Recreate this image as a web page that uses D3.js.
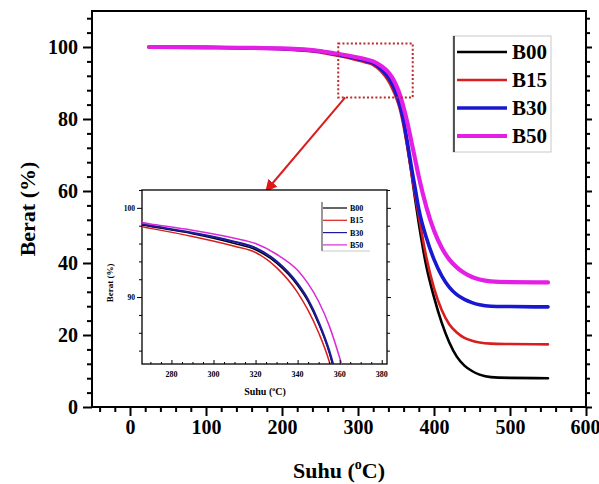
<!DOCTYPE html>
<html>
<head>
<meta charset="utf-8">
<script src="https://cdn.jsdelivr.net/npm/d3@7"></script>
<style>
  html, body { margin: 0; padding: 0; background: #fff; }
  svg { display: block; }
  text { font-family: "Liberation Serif", "DejaVu Serif", serif; font-weight: bold; }
</style>
</head>
<body>
<svg id="chart" width="599" height="484"></svg>
<script>
// ---------------- data ----------------
const temps = [25, 100, 200, 250, 270, 290, 310, 320, 330, 340, 345, 350, 355, 360, 365, 370, 375, 380, 390, 400, 410, 420, 430, 440, 450, 460, 475, 500, 550];
const seriesNames = ["B00", "B15", "B30", "B50"];
const B00 = [100, 99.9, 99.5, 98.7, 97.9, 97.1, 96.0, 95.3, 93.8, 91.3, 89.5, 87.0, 83.8, 79.0, 72.5, 65.5, 58.0, 51.0, 39.0, 30.5, 23.5, 18.0, 14.0, 11.5, 10.0, 9.0, 8.3, 8.1, 8.0];
const B15 = [100, 99.9, 99.4, 98.5, 97.7, 96.8, 95.7, 95.0, 93.3, 90.5, 88.5, 86.0, 82.8, 78.0, 72.0, 65.5, 59.0, 53.0, 41.5, 33.0, 27.0, 23.0, 20.7, 19.2, 18.4, 17.9, 17.6, 17.5, 17.4];
const B30 = [100, 99.9, 99.5, 98.8, 98.0, 97.2, 96.2, 95.5, 94.0, 91.5, 89.7, 87.2, 84.0, 79.5, 73.5, 67.0, 61.0, 55.0, 47.0, 41.0, 36.5, 33.3, 31.2, 29.9, 29.0, 28.4, 28.0, 27.9, 27.8];
const B50 = [100, 99.9, 99.6, 98.9, 98.2, 97.5, 96.6, 96.0, 94.8, 93.0, 91.5, 89.5, 86.8, 83.2, 79.0, 74.0, 69.0, 64.0, 55.5, 49.0, 44.3, 41.0, 38.8, 37.2, 36.1, 35.4, 34.9, 34.7, 34.6];
const seriesValues = [B00, B15, B30, B50];

const xMajorTicks = [0, 100, 200, 300, 400, 500, 600];
const yMajorTicks = [0, 20, 40, 60, 80, 100];
const insetXTicks = [280, 300, 320, 340, 360, 380];
const insetYTicks = [90, 100];
const zoomBox = { t0: 274, t1: 372, w0: 86, w1: 101 }; // region magnified in the inset

// ---------------- styles ----------------
const colors = ["#000000", "#d81e1e", "#1818d0", "#e51ee5"];
const mainWidths = [2.6, 2.6, 3.6, 4.2];
const insetColors = ["#000000", "#d81e1e", "#1a1a9a", "#d92ad9"];

const svg = d3.select("#chart");

// ---------------- main chart ----------------
const M = { left: 92, top: 11, right: 586, bottom: 407 };
const x = d3.scaleLinear().domain([-50, 600]).range([M.left, M.right]);
const y = d3.scaleLinear().domain([0, 110]).range([M.bottom, M.top]);

const series = seriesNames.map((name, i) => ({
  name, color: colors[i], width: mainWidths[i], icolor: insetColors[i],
  values: temps.map((t, j) => ({ t, w: seriesValues[i][j] }))
}));

// frame
svg.append("rect").attr("x", M.left).attr("y", M.top)
  .attr("width", M.right - M.left).attr("height", M.bottom - M.top)
  .attr("fill", "none").attr("stroke", "#000").attr("stroke-width", 2);

// bottom axis
const xMinor = d3.range(-40, 601, 20).filter(v => !xMajorTicks.includes(v));
const gx = svg.append("g").attr("transform", `translate(0,${M.bottom})`);
gx.call(d3.axisBottom(x).tickValues(xMajorTicks).tickSize(9).tickPadding(4).tickFormat(d3.format("d")));
gx.append("g").call(d3.axisBottom(x).tickValues(xMinor).tickSize(5).tickFormat(""));
gx.selectAll(".domain").remove();
gx.selectAll("line").attr("stroke", "#000").attr("stroke-width", 2);
gx.selectAll("text").attr("font-size", 20).attr("fill", "#000")
  .style("font-family", "Liberation Serif").style("font-weight", "bold");
gx.selectAll(".tick text").filter(d => d === 600).attr("text-anchor", "end").attr("dx", 14);

// left axis
const yMinor = d3.range(4, 109, 4).filter(v => !yMajorTicks.includes(v));
const gy = svg.append("g").attr("transform", `translate(${M.left},0)`);
gy.call(d3.axisLeft(y).tickValues(yMajorTicks).tickSize(9).tickPadding(5));
gy.append("g").call(d3.axisLeft(y).tickValues(yMinor).tickSize(5).tickFormat(""));
gy.selectAll(".domain").remove();
gy.selectAll("line").attr("stroke", "#000").attr("stroke-width", 2);
gy.selectAll("text").attr("font-size", 20).attr("fill", "#000")
  .style("font-family", "Liberation Serif").style("font-weight", "bold");

// right axis (mirror ticks)
const gr = svg.append("g").attr("transform", `translate(${M.right},0)`);
gr.call(d3.axisRight(y).tickValues(yMajorTicks).tickSize(6).tickFormat(""));
gr.append("g").call(d3.axisRight(y).tickValues(yMinor).tickSize(4).tickFormat(""));
gr.selectAll(".domain").remove();
gr.selectAll("line").attr("stroke", "#000").attr("stroke-width", 2);

// axis titles
const xt = svg.append("text").attr("x", (M.left + M.right) / 2).attr("y", 478)
  .attr("text-anchor", "middle").attr("font-size", 22).attr("fill", "#000");
xt.append("tspan").text("Suhu (");
xt.append("tspan").attr("font-size", 14).attr("dy", -9).text("o");
xt.append("tspan").attr("dy", 9).text("C)");

svg.append("text").attr("transform", `translate(35,${(M.top + M.bottom) / 2}) rotate(-90)`)
  .attr("text-anchor", "middle").attr("font-size", 22).attr("fill", "#000").text("Berat (%)");

// clip for main lines
svg.append("clipPath").attr("id", "mainclip").append("rect")
  .attr("x", M.left).attr("y", M.top).attr("width", M.right - M.left).attr("height", M.bottom - M.top);

const line = d3.line().x(d => x(d.t)).y(d => y(d.w)).curve(d3.curveMonotoneX);
svg.append("g").attr("clip-path", "url(#mainclip)")
  .selectAll("path").data(series).join("path")
  .attr("d", d => line(d.values))
  .attr("fill", "none").attr("stroke", d => d.color).attr("stroke-width", d => d.width)
  .attr("stroke-linejoin", "round").attr("stroke-linecap", "round");

// legend
const L = { x: 453, y: 36, w: 98, h: 116 };
const lg = svg.append("g");
lg.append("rect").attr("x", L.x).attr("y", L.y).attr("width", L.w).attr("height", L.h)
  .attr("fill", "#fff").attr("stroke", "#c8c8c8").attr("stroke-width", 1);
lg.append("line").attr("x1", L.x + 1).attr("x2", L.x + 1).attr("y1", L.y).attr("y2", L.y + L.h)
  .attr("stroke", "#222").attr("stroke-width", 1.5);
series.forEach((s, i) => {
  const yy = L.y + 16 + i * 28;
  lg.append("line").attr("x1", L.x + 4).attr("x2", L.x + 54).attr("y1", yy).attr("y2", yy)
    .attr("stroke", s.color).attr("stroke-width", s.width);
  lg.append("text").attr("x", L.x + 59).attr("y", yy + 7).attr("font-size", 21)
    .attr("fill", "#000").text(s.name);
});

// zoom box (dotted)
svg.append("rect")
  .attr("x", x(zoomBox.t0)).attr("y", y(zoomBox.w1))
  .attr("width", x(zoomBox.t1) - x(zoomBox.t0)).attr("height", y(zoomBox.w0) - y(zoomBox.w1))
  .attr("fill", "none").attr("stroke", "#c0282a").attr("stroke-width", 2)
  .attr("stroke-dasharray", "2,2.2");

// ---------------- inset ----------------
const I = { left: 142, top: 190, right: 387, bottom: 364 };
const ix = d3.scaleLinear().domain([266, 382.5]).range([I.left, I.right]);
const iy = d3.scaleLinear().domain([82.5, 102]).range([I.bottom, I.top]);

// arrow
const defs = svg.append("defs");
defs.append("marker").attr("id", "arrowhead").attr("viewBox", "0 0 10 10")
  .attr("refX", 9).attr("refY", 5).attr("markerWidth", 6).attr("markerHeight", 6)
  .attr("orient", "auto-start-reverse")
  .append("path").attr("d", "M0,0 L10,5 L0,10 z").attr("fill", "#e01818");
svg.append("line")
  .attr("x1", x(zoomBox.t0) + 7).attr("y1", y(zoomBox.w0))
  .attr("x2", 266).attr("y2", I.top + 1)
  .attr("stroke", "#d81e1e").attr("stroke-width", 2).attr("marker-end", "url(#arrowhead)");

svg.append("rect").attr("x", I.left).attr("y", I.top)
  .attr("width", I.right - I.left).attr("height", I.bottom - I.top)
  .attr("fill", "#fff").attr("stroke", "#000").attr("stroke-width", 1.3);

svg.append("clipPath").attr("id", "insetclip").append("rect")
  .attr("x", I.left).attr("y", I.top).attr("width", I.right - I.left).attr("height", I.bottom - I.top);

const iline = d3.line().x(d => ix(d.t)).y(d => iy(d.w)).curve(d3.curveMonotoneX);
svg.append("g").attr("clip-path", "url(#insetclip)")
  .selectAll("path").data(series).join("path")
  .attr("d", d => iline(d.values))
  .attr("fill", "none").attr("stroke", d => d.icolor).attr("stroke-width", (d, i) => i === 2 ? 2.2 : 1.5);

// inset bottom axis (inward ticks)
const ixMinor = d3.range(270, 381, 5).filter(v => !insetXTicks.includes(v));
const igx = svg.append("g").attr("transform", `translate(0,${I.bottom})`);
igx.call(d3.axisTop(ix).tickValues(insetXTicks).tickSize(4).tickFormat(""));
igx.append("g").call(d3.axisTop(ix).tickValues(ixMinor).tickSize(2).tickFormat(""));
igx.selectAll(".domain").remove();
igx.selectAll("line").attr("stroke", "#000").attr("stroke-width", 1);
igx.selectAll(null).data(insetXTicks).join("text")
  .attr("x", d => ix(d)).attr("y", 13).attr("text-anchor", "middle")
  .attr("font-size", 8).attr("fill", "#000").text(d => d);

// inset left axis
const iyMinor = d3.range(84, 102.1, 2).filter(v => !insetYTicks.includes(v));
const igy = svg.append("g").attr("transform", `translate(${I.left},0)`);
igy.call(d3.axisLeft(iy).tickValues(insetYTicks).tickSize(5).tickPadding(2));
igy.append("g").call(d3.axisLeft(iy).tickValues(iyMinor).tickSize(3).tickFormat(""));
igy.selectAll(".domain").remove();
igy.selectAll("line").attr("stroke", "#000").attr("stroke-width", 1);
igy.selectAll("text").attr("font-size", 7.5).attr("fill", "#000")
  .style("font-family", "Liberation Serif").style("font-weight", "bold");

// inset right axis
const igr = svg.append("g").attr("transform", `translate(${I.right},0)`);
igr.call(d3.axisRight(iy).tickValues(insetYTicks).tickSize(4).tickFormat(""));
igr.append("g").call(d3.axisRight(iy).tickValues(iyMinor).tickSize(3).tickFormat(""));
igr.selectAll(".domain").remove();
igr.selectAll("line").attr("stroke", "#000").attr("stroke-width", 1);

// inset titles
const ixt = svg.append("text").attr("x", 265).attr("y", 395).attr("text-anchor", "middle")
  .attr("font-size", 10).attr("fill", "#000");
ixt.append("tspan").text("Suhu (");
ixt.append("tspan").attr("font-size", 6).attr("dy", -4).text("o");
ixt.append("tspan").attr("dy", 4).text("C)");
svg.append("text").attr("transform", `translate(113,${(I.top + I.bottom) / 2 + 6}) rotate(-90)`)
  .attr("text-anchor", "middle").attr("font-size", 9).attr("fill", "#000").text("Berat (%)");

// inset legend
const IL = { x: 322, y: 202 };
svg.append("line").attr("x1", IL.x).attr("x2", IL.x).attr("y1", IL.y).attr("y2", IL.y + 49)
  .attr("stroke", "#333").attr("stroke-width", 1);
svg.append("line").attr("x1", IL.x).attr("x2", IL.x + 48).attr("y1", IL.y + 49).attr("y2", IL.y + 49)
  .attr("stroke", "#bbb").attr("stroke-width", 0.8);
series.forEach((s, i) => {
  const yy = IL.y + 6 + i * 12.3;
  svg.append("line").attr("x1", IL.x + 1).attr("x2", IL.x + 25).attr("y1", yy).attr("y2", yy)
    .attr("stroke", s.icolor).attr("stroke-width", 1.2);
  svg.append("text").attr("x", IL.x + 28).attr("y", yy + 3).attr("font-size", 8)
    .attr("fill", "#000").text(s.name);
});
</script>
</body>
</html>
